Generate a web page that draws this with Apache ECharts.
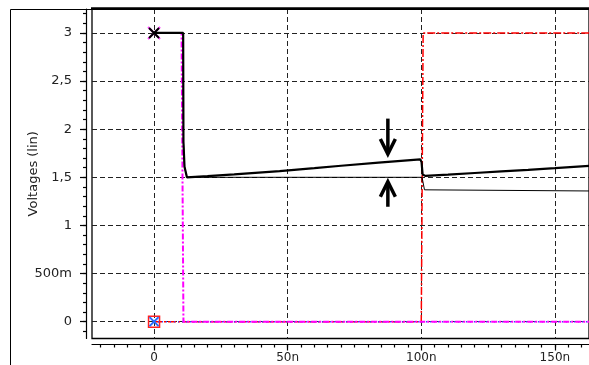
<!DOCTYPE html>
<html><head><meta charset="utf-8">
<script src="https://cdn.jsdelivr.net/npm/echarts@6/dist/echarts.min.js"></script>
<style>html,body{margin:0;padding:0;background:#fff}#c{width:589px;height:365px}</style>
</head><body><div id="c"></div>
<script>
// ---- axis ticks / labels ----
const xMajorTicks = [0, 50, 100, 150];
const xTickLabels = ['0', '50n', '100n', '150n'];
const xMinorTicks = [-20, -15, -10, -5, 0, 5, 10, 15, 20, 25, 30, 35, 40, 45, 50, 55, 60, 65, 70, 75, 80, 85, 90, 95, 100, 105, 110, 115, 120, 125, 130, 135, 140, 145, 150, 155, 160];
const yMajorTicks = [0, 0.5, 1, 1.5, 2, 2.5, 3];
const yTickLabels = ['0', '500m', '1', '1,5', '2', '2,5', '3'];
const yMinorTicks = [-0.1, 0, 0.1, 0.2, 0.3, 0.4, 0.5, 0.6, 0.7, 0.8, 0.9, 1.0, 1.1, 1.2, 1.3, 1.4, 1.5, 1.6, 1.7, 1.8, 1.9, 2.0, 2.1, 2.2, 2.3, 2.4, 2.5, 2.6, 2.7, 2.8, 2.9, 3.0, 3.1, 3.2];
const yAxisName = 'Voltages (lin)';

// ---- series values: [time (ns), voltage (V)] ----
const outThick = [[0,3],[10.9,3],[11.0,1.87],[11.4,1.61],[12.3,1.5],[20,1.512],[30,1.53],[47,1.565],[60,1.595],[70,1.62],[84,1.652],[99.6,1.687],[100.1,1.66],[100.5,1.53],[101.5,1.515],[110,1.527],[120,1.545],[130,1.562],[140,1.578],[150,1.595],[162.8,1.618]];
const outThin = [[0,3],[10.9,3],[11.0,1.87],[11.4,1.61],[12.3,1.5],[100.3,1.5],[101.2,1.37],[101.8,1.358],[162.8,1.358]];
const magentaIn = [[0,3],[10.3,3],[11.0,0],[162.8,0]];
const redIn = [[0,0],[100,0],[100.7,3],[162.8,3]];
const blueRef = [[0,0],[162.8,0]];

// ---- annotation arrows (data units) ----
const arrowX = 87.5;
const downArrow = [2.11, 1.742];
const upArrow = [1.194, 1.454];

const XMIN = -23.22, XMAX = 162.77, YMIN = -0.175, YMAX = 3.249;
const FONT = 'DejaVu Sans';
const X_PATH = 'path://M0,0L10,10M10,0L0,10';

function firstMark(arr, mark) {
  return arr.map((p, i) => i === 0 ? Object.assign({ value: p }, mark) : p);
}

const chart = echarts.init(document.getElementById('c'), null, { renderer: 'canvas' });

const baseX = { type: 'value', min: XMIN, max: XMAX, gridIndex: 0, position: 'bottom' };
const baseY = { type: 'value', min: YMIN, max: YMAX, gridIndex: 0, position: 'left' };
const gridLine = { show: true, lineStyle: { type: [5, 3], color: '#222', width: 1 } };
const tickStyle = { color: '#000', width: 1.2 };

chart.setOption({
  animation: false,
  backgroundColor: '#fff',
  grid: { left: 92, top: 9, width: 499, height: 329.5, show: true, borderColor: '#000', borderWidth: 1.3, backgroundColor: '#fff' },
  xAxis: [
    Object.assign({}, baseX, { axisLine: { show: false, onZero: false }, axisTick: { show: false, customValues: xMajorTicks }, axisLabel: { show: false, customValues: xMajorTicks }, splitLine: gridLine }),
    Object.assign({}, baseX, { offset: 6, axisLine: { show: true, onZero: false, lineStyle: tickStyle },
      axisTick: { show: true, customValues: xMajorTicks, length: 6, lineStyle: tickStyle },
      axisLabel: { show: true, customValues: xMajorTicks, margin: 7, fontFamily: FONT, fontSize: 12, color: '#222',
        formatter: v => { const i = xMajorTicks.indexOf(v); return i >= 0 ? xTickLabels[i] : ''; } },
      splitLine: { show: false } }),
    Object.assign({}, baseX, { offset: 6, axisLine: { show: false, onZero: false },
      axisTick: { show: true, customValues: xMinorTicks, length: 3, lineStyle: tickStyle },
      axisLabel: { show: false }, splitLine: { show: false } })
  ],
  yAxis: [
    Object.assign({}, baseY, { axisLine: { show: false, onZero: false }, axisTick: { show: false, customValues: yMajorTicks }, axisLabel: { show: false, customValues: yMajorTicks }, splitLine: gridLine }),
    Object.assign({}, baseY, { offset: 6, axisLine: { show: true, onZero: false, lineStyle: tickStyle },
      axisTick: { show: true, customValues: yMajorTicks, length: 6, lineStyle: tickStyle },
      axisLabel: { show: true, customValues: yMajorTicks, margin: 14, fontFamily: FONT, fontSize: 13, color: '#222',
        formatter: v => { const i = yMajorTicks.findIndex(t => Math.abs(t - v) < 1e-9); return i >= 0 ? yTickLabels[i] : ''; } },
      name: yAxisName, nameLocation: 'middle', nameGap: 46, nameMoveOverlap: false,
      nameTextStyle: { fontFamily: FONT, fontSize: 13, color: '#222' },
      splitLine: { show: false } }),
    Object.assign({}, baseY, { offset: 6, axisLine: { show: false, onZero: false },
      axisTick: { show: true, customValues: yMinorTicks, length: 3, lineStyle: tickStyle },
      axisLabel: { show: false }, splitLine: { show: false } })
  ],
  series: [
    { type: 'line', name: 'in2', symbol: 'none', z: 2, clip: true,
      lineStyle: { color: '#ff0000', width: 1.5, type: [8, 2, 2, 2] },
      data: firstMark(redIn, { symbol: 'rect', symbolSize: 11, itemStyle: { color: 'rgba(0,0,0,0)', borderColor: '#ff2020', borderWidth: 1.5 } }) },
    { type: 'line', name: 'ref', symbol: 'none', z: 3, clip: true,
      lineStyle: { color: '#3a3aff', width: 1.5, type: [1, 3] },
      data: firstMark(blueRef, { symbol: X_PATH, symbolSize: 9, itemStyle: { color: 'rgba(0,0,0,0)', borderColor: '#2a6cff', borderWidth: 2 } }) },
    { type: 'line', name: 'in1', symbol: 'none', z: 4, clip: true,
      lineStyle: { color: '#ff00ff', width: 2, type: [6, 2, 2, 2] },
      data: firstMark(magentaIn, { symbol: X_PATH, symbolSize: 12, itemStyle: { color: 'rgba(0,0,0,0)', borderColor: '#ff40ff', borderWidth: 2 } }) },
    { type: 'line', name: 'outThin', symbol: 'none', z: 5, clip: true,
      lineStyle: { color: '#000', width: 1 }, data: outThin },
    { type: 'line', name: 'outThick', symbol: 'none', z: 6, clip: true,
      lineStyle: { color: '#000', width: 2.2 },
      data: firstMark(outThick, { symbol: X_PATH, symbolSize: 10, itemStyle: { color: 'rgba(0,0,0,0)', borderColor: '#000', borderWidth: 2 } }) }
  ]
});

// annotations placed through the chart's own coordinate conversion
const p = (x, y) => chart.convertToPixel({ gridIndex: 0 }, [x, y]);
const dTop = p(arrowX, downArrow[0]), dTip = p(arrowX, downArrow[1]);
const uBot = p(arrowX, upArrow[0]), uTip = p(arrowX, upArrow[1]);
const arrowStyle = { stroke: '#000', lineWidth: 3.5, fill: null, lineJoin: 'miter' };
chart.setOption({
  graphic: [
    { type: 'rect', shape: { x: 10.5, y: 9.5, width: 700, height: 500 }, style: { stroke: '#000', lineWidth: 1, fill: null }, z: 0, silent: true },
    { type: 'line', shape: { x1: 91, y1: 8.6, x2: 589, y2: 8.6 }, style: { stroke: '#000', lineWidth: 2.6 }, z: 100 },
    { type: 'line', shape: { x1: dTop[0], y1: dTop[1], x2: dTip[0], y2: dTip[1] - 2 }, style: arrowStyle, z: 100 },
    { type: 'polyline', shape: { points: [[dTip[0] - 7.5, dTip[1] - 15], [dTip[0], dTip[1]], [dTip[0] + 7.5, dTip[1] - 15]] }, style: arrowStyle, z: 100 },
    { type: 'line', shape: { x1: uBot[0], y1: uBot[1], x2: uTip[0], y2: uTip[1] + 2 }, style: arrowStyle, z: 100 },
    { type: 'polyline', shape: { points: [[uTip[0] - 7.5, uTip[1] + 15], [uTip[0], uTip[1]], [uTip[0] + 7.5, uTip[1] + 15]] }, style: arrowStyle, z: 100 }
  ]
});
</script>
</body></html>
